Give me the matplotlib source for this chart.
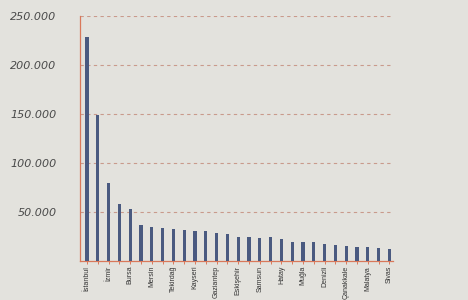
import matplotlib.pyplot as plt
from matplotlib.ticker import FuncFormatter

# provinces (only every other one is labelled on the axis)
provinces = ["İstanbul", "", "İzmir", "", "Bursa", "", "Mersin", "", "Tekirdağ", "",
             "Kayseri", "", "Gaziantep", "", "Eskişehir", "", "Samsun", "", "Hatay", "",
             "Muğla", "", "Denizli", "", "Çanakkale", "", "Malatya", "", "Sivas"]
values = [228000, 149000, 80000, 58000, 53000, 37000, 34500, 33500, 33000, 32000,
          30500, 30500, 29000, 27500, 24000, 24000, 23500, 24000, 22000, 19500,
          19500, 19500, 17500, 16500, 15500, 14500, 14500, 13300, 12300]
yticks = [50000, 100000, 150000, 200000, 250000]

bg = "#e3e2dd"
fig = plt.figure(figsize=(4.68, 3.0), dpi=100, facecolor=bg)
ax = fig.add_axes([0.171, 0.13, 0.669, 0.817], facecolor=bg)

x = list(range(len(values)))
ax.bar(x, values, width=0.3, color="#4a5a80", zorder=3)

ax.set_xlim(-0.65, len(values) - 0.65)
ax.set_ylim(0, 250000)

for y in yticks:
    ax.axhline(y, color="#c99a8c", lw=0.8, ls=(0, (3, 3)), zorder=1)

for s in ["top", "right"]:
    ax.spines[s].set_visible(False)
ax.spines["left"].set_color("#d9785a")
ax.spines["bottom"].set_color("#d9785a")
ax.spines["left"].set_linewidth(0.9)
ax.spines["bottom"].set_linewidth(0.9)

ax.set_yticks(yticks)
ax.yaxis.set_major_formatter(FuncFormatter(lambda v, p: f"{int(v):,}".replace(",", ".")))
ax.tick_params(axis="y", length=0, pad=17, labelsize=8, labelcolor="#4a4a4a")
for t in ax.get_yticklabels():
    t.set_fontstyle("italic")

ax.set_xticks(x)
ax.set_xticklabels(provinces, rotation=90, fontsize=5,
                   family=["Liberation Sans", "DejaVu Sans"], color="#333333")
ax.tick_params(axis="x", length=2.5, width=0.7, color="#d9785a", pad=1)

fig.savefig("out.png", dpi=100, facecolor=bg)
